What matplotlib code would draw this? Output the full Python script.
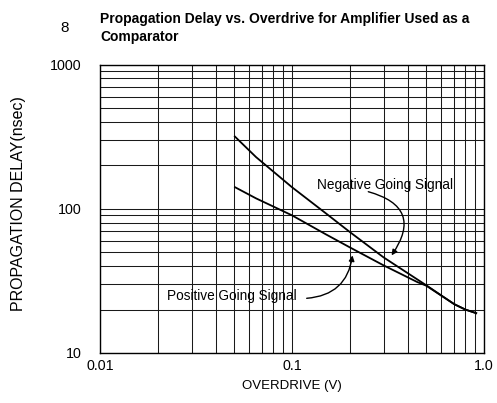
import matplotlib
matplotlib.use("Agg")
import matplotlib.pyplot as plt
from matplotlib.ticker import LogLocator, FixedLocator, FixedFormatter, NullFormatter

# ---- data ----
overdrive_neg = [0.05, 0.065, 0.1, 0.15, 0.2, 0.3, 0.5, 0.7, 0.8, 0.92]
delay_neg = [320, 228, 141, 93, 69, 46, 29.5, 21.8, 20.0, 18.8]

overdrive_pos = [0.05, 0.065, 0.1, 0.15, 0.2, 0.3, 0.45, 0.5, 0.7, 0.8, 0.92]
delay_pos = [142, 118, 90, 66.5, 54, 40.5, 31, 29.3, 21.8, 20.0, 18.8]

x_ticks = [0.01, 0.1, 1.0]
x_tick_labels = ["0.01", "0.1", "1.0"]
y_ticks = [10, 100, 1000]
y_tick_labels = ["10", "100", "1000"]

title_line1 = "Propagation Delay vs. Overdrive for Amplifier Used as a"
title_line2 = "Comparator"
fig_number = "8"
x_label = "OVERDRIVE (V)"
y_label = "PROPAGATION DELAY(nsec)"
neg_label = "Negative Going Signal"
pos_label = "Positive Going Signal"

# ---- figure ----
W, H = 497, 403
plt.rcParams['font.family'] = ['Liberation Sans', 'DejaVu Sans']
fig = plt.figure(figsize=(W / 100, H / 100), dpi=100)
fig.patch.set_facecolor('white')

left, right, top, bottom = 100, 484, 64.5, 353
ax = fig.add_axes([left / W, 1 - bottom / H, (right - left) / W, (bottom - top) / H])

ax.set_xscale('log')
ax.set_yscale('log')
ax.set_xlim(0.01, 1.0)
ax.set_ylim(10, 1000)

ax.plot(overdrive_neg, delay_neg, color='black', lw=1.3, solid_capstyle='butt')
ax.plot(overdrive_pos, delay_pos, color='black', lw=1.3, solid_capstyle='butt')

# ticks / grid
ax.xaxis.set_major_locator(FixedLocator(x_ticks))
ax.xaxis.set_major_formatter(FixedFormatter(x_tick_labels))
ax.yaxis.set_major_locator(FixedLocator(y_ticks))
ax.yaxis.set_major_formatter(FixedFormatter(y_tick_labels))
ax.xaxis.set_minor_locator(LogLocator(base=10, subs=range(2, 10)))
ax.yaxis.set_minor_locator(LogLocator(base=10, subs=range(2, 10)))
ax.xaxis.set_minor_formatter(NullFormatter())
ax.yaxis.set_minor_formatter(NullFormatter())
ax.grid(True, which='both', color='#1a1a1a', lw=0.75)
ax.tick_params(which='both', length=0)
ax.tick_params(axis='x', pad=4, labelsize=10.3)
ax.tick_params(axis='y', pad=13, labelsize=10.3)
for s in ax.spines.values():
    s.set_color('black')
    s.set_linewidth(1.0)

# titles / labels
title_font = ['Liberation Sans Narrow', 'Liberation Sans', 'DejaVu Sans']
fig.text(100 / W, 1 - 22.7 / H, title_line1, ha='left', va='baseline',
         fontsize=10, fontweight='bold', family=title_font)
fig.text(100 / W, 1 - 40.7 / H, title_line2, ha='left', va='baseline',
         fontsize=10, fontweight='bold', family=title_font)
fig.text(65 / W, 1 - 28 / H, fig_number, ha='center', va='center', fontsize=11)
fig.text(292 / W, 1 - 386 / H, x_label, ha='center', va='center', fontsize=9.5)
fig.text(18.5 / W, 1 - 204 / H, y_label, ha='center', va='center',
         rotation=90, fontsize=11.5)

# annotations
fig.text(317 / W, 1 - 188.5 / H, neg_label, ha='left', va='baseline', fontsize=9.8)
fig.text(167 / W, 1 - 300 / H, pos_label, ha='left', va='baseline', fontsize=9.8)

arrow_kw = dict(arrowstyle='-|>', color='black', lw=1.0, mutation_scale=8,
                shrinkA=0, shrinkB=0)
ax.annotate('', xy=(0.33, 47.5), xycoords='data',
            xytext=(368.3, H - 191.7), textcoords='figure pixels',
            arrowprops=dict(connectionstyle='arc3,rad=-0.7', **arrow_kw))
ax.annotate('', xy=(0.2065, 47.5), xycoords='data',
            xytext=(306.7, H - 298.3), textcoords='figure pixels',
            arrowprops=dict(connectionstyle='arc3,rad=0.4', **arrow_kw))

fig.savefig('out.png', dpi=100, facecolor='white')
